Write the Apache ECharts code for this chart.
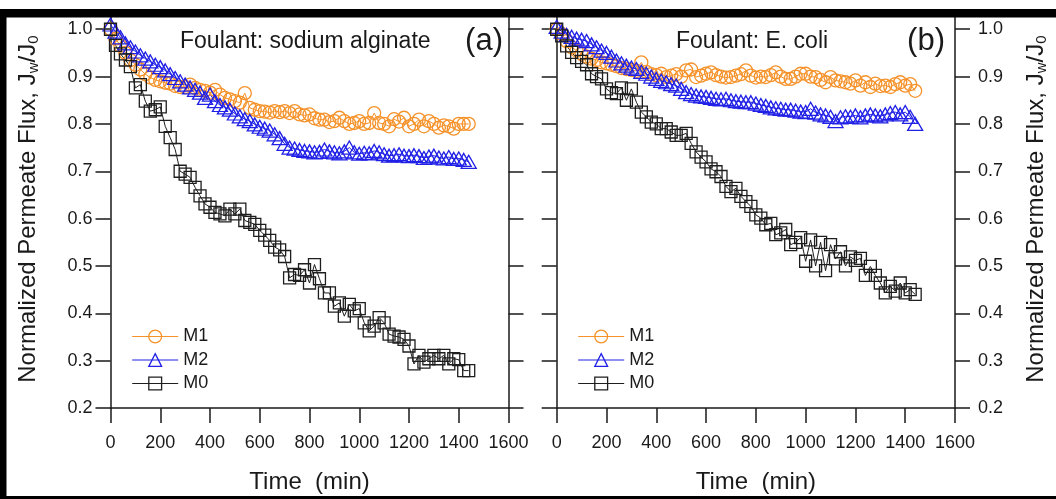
<!DOCTYPE html>
<html><head><meta charset="utf-8">
<script src="https://cdn.jsdelivr.net/npm/echarts@6/dist/echarts.min.js"></script>
<style>html,body{margin:0;padding:0;background:#fff}#c{width:1056px;height:499px}</style>
</head><body><div id="c"></div>
<script>
// time (min), sampled every 20 min
const times = [0,20,40,60,80,100,120,140,160,180,
  200,220,240,260,280,300,320,340,360,380,
  400,420,440,460,480,500,520,540,560,580,
  600,620,640,660,680,700,720,740,760,780,
  800,820,840,860,880,900,920,940,960,980,
  1000,1020,1040,1060,1080,1100,1120,1140,1160,1180,
  1200,1220,1240,1260,1280,1300,1320,1340,1360,1380,
  1400,1420,1440];

// Panel (a) Foulant: sodium alginate
const aM1 = [1.0,0.98,0.965,0.95,0.935,0.925,0.915,0.905,0.898,0.893,
  0.89,0.887,0.885,0.88,0.878,0.878,0.883,0.876,0.872,0.87,
  0.866,0.872,0.862,0.855,0.852,0.848,0.845,0.865,0.834,0.83,
  0.827,0.826,0.824,0.827,0.825,0.827,0.823,0.827,0.82,0.818,
  0.82,0.812,0.809,0.809,0.804,0.806,0.813,0.806,0.80,0.802,
  0.806,0.80,0.802,0.823,0.802,0.80,0.795,0.81,0.805,0.813,
  0.795,0.80,0.809,0.795,0.806,0.80,0.792,0.797,0.795,0.79,
  0.80,0.80,0.80];
const aM2 = [1.01,0.995,0.983,0.97,0.962,0.953,0.945,0.938,0.932,0.925,
  0.92,0.913,0.905,0.897,0.89,0.883,0.877,0.872,0.866,0.855,
  0.862,0.848,0.84,0.835,0.83,0.822,0.816,0.81,0.806,0.799,
  0.794,0.79,0.786,0.778,0.77,0.758,0.75,0.748,0.745,0.743,
  0.742,0.74,0.741,0.746,0.742,0.74,0.738,0.742,0.75,0.74,
  0.737,0.739,0.738,0.743,0.74,0.736,0.733,0.734,0.736,0.733,
  0.732,0.734,0.732,0.728,0.731,0.733,0.729,0.727,0.73,0.726,
  0.727,0.724,0.72];
const aM0 = [1.0,0.966,0.948,0.935,0.921,0.876,0.883,0.848,0.827,0.83,
  0.836,0.795,0.771,0.746,0.70,0.694,0.687,0.666,0.648,0.631,
  0.624,0.613,0.61,0.606,0.62,0.61,0.62,0.596,0.592,0.588,
  0.575,0.565,0.554,0.54,0.534,0.52,0.475,0.482,0.48,0.492,
  0.464,0.503,0.473,0.443,0.443,0.415,0.422,0.394,0.419,0.405,
  0.41,0.38,0.363,0.373,0.391,0.38,0.356,0.352,0.35,0.345,
  0.331,0.293,0.311,0.297,0.304,0.311,0.304,0.311,0.293,0.304,
  0.302,0.279,0.279];

// Panel (b) Foulant: E. coli
const bM1 = [1.0,0.99,0.975,0.962,0.955,0.948,0.942,0.938,0.935,0.93,
  0.928,0.925,0.922,0.918,0.916,0.914,0.912,0.93,0.91,0.905,
  0.903,0.906,0.899,0.902,0.905,0.90,0.913,0.915,0.899,0.902,
  0.906,0.909,0.903,0.90,0.898,0.899,0.902,0.905,0.913,0.902,
  0.898,0.90,0.899,0.903,0.909,0.90,0.895,0.895,0.90,0.906,
  0.906,0.90,0.899,0.893,0.888,0.899,0.892,0.89,0.888,0.885,
  0.892,0.881,0.888,0.878,0.885,0.88,0.881,0.878,0.884,0.888,
  0.881,0.884,0.87];
const bM2 = [1.005,0.995,0.988,0.984,0.98,0.978,0.975,0.968,0.962,0.955,
  0.95,0.942,0.934,0.928,0.923,0.919,0.916,0.91,0.906,0.90,
  0.895,0.891,0.888,0.884,0.881,0.874,0.867,0.863,0.86,0.858,
  0.857,0.855,0.853,0.852,0.853,0.85,0.848,0.847,0.846,0.846,
  0.843,0.84,0.838,0.835,0.833,0.832,0.83,0.83,0.828,0.826,
  0.825,0.832,0.824,0.82,0.818,0.815,0.806,0.814,0.816,0.815,
  0.818,0.814,0.818,0.82,0.818,0.816,0.82,0.823,0.825,0.82,
  0.825,0.815,0.80];
const bM0 = [1.0,0.986,0.965,0.951,0.94,0.932,0.925,0.906,0.9,0.895,
  0.874,0.866,0.864,0.876,0.85,0.874,0.846,0.825,0.815,0.804,
  0.80,0.79,0.79,0.783,0.776,0.776,0.78,0.759,0.741,0.73,
  0.72,0.705,0.699,0.689,0.668,0.657,0.664,0.647,0.636,0.626,
  0.608,0.601,0.587,0.59,0.566,0.57,0.577,0.545,0.55,0.56,
  0.51,0.555,0.50,0.55,0.49,0.545,0.515,0.53,0.50,0.519,
  0.512,0.516,0.48,0.499,0.48,0.464,0.443,0.457,0.447,0.464,
  0.443,0.45,0.44];

const seriesNames = ['M1','M2','M0'];
const annotations = ['Foulant: sodium alginate','Foulant: E. coli'];
const panelTags = ['(a)','(b)'];
const xTitle = 'Time  (min)';
const yTitleRich = '{a|Normalized Permeate Flux, J}{s|w}{a|/J}{s|0}';
const xMin = 0, xMax = 1600, xStep = 200;
const yMin = 0.2, yMax = 1.04, yStep = 0.1;

const FONT = '"Liberation Sans", Arial, Helvetica, sans-serif';
const INK = '#1a1a1a';
const C1 = '#f5922a', C2 = '#2020e6', C0 = '#1e1e1e';

const chart = echarts.init(document.getElementById('c'), null, {renderer:'canvas'});

const axisLine = {show:true, onZero:false, lineStyle:{color:INK, width:1.5}};
const axisTick = {show:true, inside:false, length:15, lineStyle:{color:INK, width:1.5}};

function xAx(g){
  return {gridIndex:g, type:'value', min:xMin, max:xMax, interval:xStep,
    axisLine, axisTick, splitLine:{show:false},
    axisLabel:{fontSize:18, fontFamily:FONT, color:INK, margin:26, lineHeight:18,
      formatter:v=>String(v)},
    name:xTitle, nameLocation:'middle', nameGap:62,
    nameTextStyle:{fontSize:24, fontFamily:FONT, color:INK}};
}
const yRich = {
  a:{fontSize:24, fontFamily:FONT, color:INK, lineHeight:26},
  s:{fontSize:15, fontFamily:FONT, color:INK, lineHeight:14, verticalAlign:'bottom'}
};
function yAx(g, pos, labels, named){
  const o = {gridIndex:g, type:'value', position:pos, min:yMin, max:yMax, interval:yStep,
    axisLine, axisTick, splitLine:{show:false},
    axisLabel:{show:labels, showMaxLabel:false, fontSize:18, fontFamily:FONT, color:INK,
      margin: pos==='left'?18:23, formatter:v=>v.toFixed(1)}};
  if (named){
    o.name = yTitleRich; o.nameLocation='middle'; o.nameRotate=90;
    o.nameGap = pos==='left'?69:68;
    o.nameTextStyle = {fontSize:24, fontFamily:FONT, color:INK, rich:yRich};
  }
  return o;
}
function ser(name, xi, yi, vals, sym, size, color){
  return {name, type:'line', xAxisIndex:xi, yAxisIndex:yi,
    data: times.map((t,i)=>[t, vals[i]]),
    symbol:sym, symbolSize:size, showSymbol:true, showAllSymbol:true,
    lineStyle:{color, width:1},
    itemStyle:{color:'rgba(255,255,255,0)', borderColor:color, borderWidth:1.3},
    emphasis:{disabled:true}, animation:false};
}
function legend(left){
  return {left, top:322.5, orient:'vertical', itemWidth:46, itemHeight:16, itemGap:5.5,
    data:seriesNames, selectedMode:false,
    textStyle:{fontSize:18, fontFamily:FONT, color:INK, lineHeight:18},
    itemStyle:{borderWidth:1.3}, lineStyle:{width:1}};
}

chart.setOption({
  animation:false,
  backgroundColor:'#ffffff',
  grid:[
    {left:110.5, top:10.3, width:398, height:399},
    {left:556.7, top:10.3, width:398.3, height:399}
  ],
  xAxis:[xAx(0), xAx(1)],
  yAxis:[yAx(0,'left',true,true), yAx(0,'right',false,false),
         yAx(1,'left',false,false), yAx(1,'right',true,true)],
  legend:[legend(126.7), legend(572.7)],
  series:[
    ser('M1',0,0,aM1,'circle',13,C1),
    ser('M2',0,0,aM2,'triangle',[15,13],C2),
    ser('M0',0,0,aM0,'rect',12,C0),
    ser('M1',1,3,bM1,'circle',13,C1),
    ser('M2',1,3,bM2,'triangle',[15,13],C2),
    ser('M0',1,3,bM0,'rect',12,C0)
  ],
  graphic:[
    {type:'text', x:180, y:42, z:50, style:{text:annotations[0], fontSize:23, fontFamily:FONT, fill:INK, align:'left', verticalAlign:'middle'}},
    {type:'text', x:503, y:41, z:50, style:{text:panelTags[0], fontSize:31, fontFamily:FONT, fill:INK, align:'right', verticalAlign:'middle'}},
    {type:'text', x:676, y:42, z:50, style:{text:annotations[1], fontSize:23, fontFamily:FONT, fill:INK, align:'left', verticalAlign:'middle'}},
    {type:'text', x:945, y:41, z:50, style:{text:panelTags[1], fontSize:31, fontFamily:FONT, fill:INK, align:'right', verticalAlign:'middle'}},
    {type:'rect', z:100, shape:{x:0, y:9, width:1056, height:8.5}, style:{fill:'#000'}},
    {type:'rect', z:100, shape:{x:0, y:9, width:6.5, height:490}, style:{fill:'#000'}},
    {type:'rect', z:100, shape:{x:0, y:496, width:1056, height:3}, style:{fill:'#000'}}
  ]
});
</script>
</body></html>
